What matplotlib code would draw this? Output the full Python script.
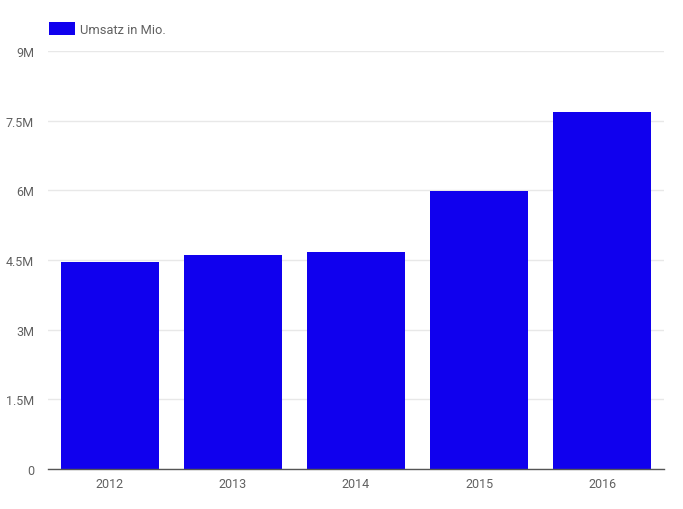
import matplotlib
matplotlib.use("Agg")
import matplotlib.pyplot as plt
from matplotlib.ticker import FixedLocator, FixedFormatter

years = ["2012", "2013", "2014", "2015", "2016"]
umsatz = [4.46e6, 4.61e6, 4.68e6, 5.98e6, 7.68e6]
yticks = [0, 1.5e6, 3e6, 4.5e6, 6e6, 7.5e6, 9e6]
ytick_labels = ["0", "1.5M", "3M", "4.5M", "6M", "7.5M", "9M"]
series_name = "Umsatz in Mio."

plt.rcParams['font.family'] = ['Roboto', 'DejaVu Sans']

W, H = 683, 510
fig = plt.figure(figsize=(W / 100, H / 100), dpi=100)
ax = fig.add_axes([48 / W, (H - 470) / H, 616 / W, 418 / H])

x = list(range(len(years)))
ax.bar(x, umsatz, width=0.795, color="#1000ee", label=series_name, zorder=2)

ax.set_xlim(-0.5, len(years) - 0.5)
ax.set_ylim(0, 9e6)
ax.yaxis.set_major_locator(FixedLocator(yticks))
ax.yaxis.set_major_formatter(FixedFormatter(ytick_labels))
ax.set_xticks(x)
ax.set_xticklabels(years)

ax.grid(axis="y", color="#e8e8e8", linewidth=1, zorder=0)
ax.set_axisbelow(True)
for s in ["top", "right", "left"]:
    ax.spines[s].set_visible(False)
ax.spines["bottom"].set_color("#555555")
ax.spines["bottom"].set_linewidth(1)
ax.spines["bottom"].set_zorder(3)

ax.tick_params(axis="both", length=0, labelsize=9, labelcolor="#616161")
ax.tick_params(axis="y", pad=10)
ax.tick_params(axis="x", pad=6)

fig.legend(loc="upper left", bbox_to_anchor=(49 / W, 1 - 23 / H), frameon=False,
           borderpad=0, borderaxespad=0, handlelength=2.05, handleheight=1.2,
           handletextpad=0.35, prop={"size": 9.3}, labelcolor="#616161")

fig.savefig("out.png", dpi=100)
